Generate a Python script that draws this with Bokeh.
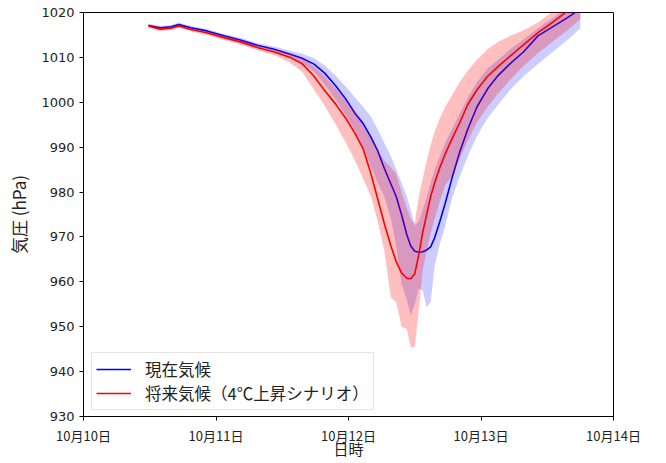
from bokeh.plotting import figure
from bokeh.models import FixedTicker
from bokeh.embed import file_html
from bokeh.resources import INLINE

# Time in days since 10月10日 00:00
t = [0.49, 0.58, 0.66, 0.72, 0.81, 0.93, 1.06, 1.19, 1.31, 1.44,
     1.56, 1.65, 1.74, 1.82, 1.90, 1.98, 2.05, 2.11, 2.17, 2.22,
     2.27, 2.32, 2.36, 2.40, 2.44, 2.47, 2.50, 2.53, 2.56, 2.59,
     2.62, 2.65, 2.69, 2.73, 2.78, 2.84, 2.90, 2.97, 3.05, 3.13,
     3.22, 3.32, 3.43, 3.54, 3.65, 3.75]

# Present climate: ensemble mean and spread (hPa)
present_mean = [1017.1, 1016.6, 1016.8, 1017.3, 1016.6, 1015.9, 1014.8, 1013.8, 1012.7, 1011.8,
                1010.7, 1009.8, 1008.5, 1006.5, 1003.8, 1000.7, 997.5, 995.3, 992.2, 989.2,
                985.3, 981.8, 979.0, 975.0, 970.5, 968.0, 966.8, 966.6, 966.7, 967.1,
                967.8, 969.8, 973.5, 977.5, 983.0, 989.0, 994.0, 999.0, 1003.0, 1006.0,
                1008.6, 1011.2, 1014.8, 1016.8, 1018.8, 1020.8]
present_low = [1016.7, 1016.2, 1016.4, 1016.9, 1016.2, 1015.5, 1014.4, 1013.3, 1012.2, 1011.1,
               1009.8, 1008.8, 1006.8, 1004.0, 1000.8, 997.0, 993.5, 990.0, 985.5, 982.0,
               979.0, 974.0, 968.0, 959.5, 956.0, 952.5, 955.0, 958.5, 958.0, 954.3,
               955.5, 963.5, 968.5, 972.5, 978.5, 983.5, 988.0, 992.5, 996.5, 999.5,
               1002.8, 1005.8, 1008.5, 1011.2, 1013.8, 1016.5]
present_high = [1017.5, 1017.0, 1017.2, 1017.7, 1017.0, 1016.3, 1015.2, 1014.3, 1013.2, 1012.4,
                1011.4, 1010.8, 1009.8, 1008.2, 1006.0, 1003.5, 1001.0, 999.0, 996.8, 994.0,
                991.0, 988.0, 985.0, 982.0, 979.0, 976.0, 972.5, 973.5, 976.0, 979.0,
                982.0, 985.0, 988.0, 991.0, 994.0, 997.5, 1001.0, 1004.5, 1007.5, 1009.5,
                1011.8, 1014.0, 1016.5, 1018.8, 1021.0, 1022.0]

# Future climate (+4℃ scenario): ensemble mean and spread (hPa)
future_mean = [1017.0, 1016.3, 1016.5, 1017.0, 1016.2, 1015.5, 1014.4, 1013.4, 1012.2, 1011.2,
               1010.0, 1008.6, 1005.8, 1002.6, 999.7, 996.4, 993.0, 989.7, 984.0, 978.5,
               973.0, 968.0, 964.5, 962.0, 960.8, 960.7, 961.8, 966.0, 971.0, 975.0,
               979.0, 982.0, 985.5, 988.5, 991.8, 995.5, 999.5, 1002.8, 1005.8, 1008.0,
               1010.3, 1012.8, 1015.5, 1017.8, 1020.3, 1021.8]
future_low = [1016.6, 1015.9, 1016.1, 1016.6, 1015.8, 1015.0, 1013.9, 1012.8, 1011.6, 1010.5,
              1008.8, 1006.8, 1002.8, 999.2, 995.2, 991.0, 987.0, 983.0, 979.0, 973.5,
              967.0, 956.5, 955.5, 950.0, 949.5, 945.4, 945.4, 953.6, 962.5, 967.0,
              970.8, 974.0, 978.0, 981.5, 983.5, 987.5, 991.5, 995.5, 999.0, 1002.0,
              1005.0, 1008.0, 1011.0, 1013.5, 1016.0, 1018.5]
future_high = [1017.4, 1016.7, 1016.9, 1017.4, 1016.6, 1015.9, 1014.8, 1013.9, 1012.7, 1011.8,
               1010.8, 1009.8, 1008.0, 1005.8, 1003.2, 1000.5, 997.8, 995.0, 992.0, 989.5,
               987.0, 985.5, 984.0, 980.0, 976.5, 974.0, 973.0, 979.0, 983.0, 987.0,
               990.5, 993.5, 996.5, 999.0, 1001.5, 1004.5, 1007.0, 1009.5, 1011.8, 1013.5,
               1014.8, 1016.0, 1017.8, 1020.2, 1022.0, 1023.0]

x_tick_values = [0, 1, 2, 3, 4]
x_tick_labels = ["10月10日", "10月11日", "10月12日", "10月13日", "10月14日"]
y_tick_values = [930, 940, 950, 960, 970, 980, 990, 1000, 1010, 1020]

series_labels = ["現在気候", "将来気候（4℃上昇シナリオ）"]
x_title = "日時"
y_title = "気圧 (hPa)"

FONT = "Noto Sans CJK JP"

p = figure(width=666, height=463, x_range=(0, 4), y_range=(930, 1020),
           output_backend="svg", toolbar_location=None,
           min_border_left=83, min_border_right=53,
           min_border_top=12, min_border_bottom=47)

# Ensemble spread bands and mean lines
p.varea(x=t, y1=present_low, y2=present_high, fill_color="#0000ff", fill_alpha=0.2)
p.line(t, present_mean, line_color="#0000ff", line_width=1.6, legend_label=series_labels[0])
p.varea(x=t, y1=future_low, y2=future_high, fill_color="#ff0000", fill_alpha=0.25)
p.line(t, future_mean, line_color="#ff0000", line_width=1.6, legend_label=series_labels[1])

# Frame and axes
p.outline_line_color = "black"
p.outline_line_width = 1
p.grid.visible = False
p.background_fill_color = "white"
p.border_fill_color = "white"

p.xaxis.ticker = FixedTicker(ticks=x_tick_values)
p.xaxis.major_label_overrides = {v: lab for v, lab in zip(x_tick_values, x_tick_labels)}
p.yaxis.ticker = FixedTicker(ticks=y_tick_values)

for ax in (p.xaxis, p.yaxis):
    ax.axis_line_color = "black"
    ax.major_tick_line_color = "black"
    ax.major_tick_out = 4
    ax.major_tick_in = 0
    ax.minor_tick_line_color = None
    ax.major_label_text_color = "#222222"
    ax.axis_label_text_font = FONT
    ax.axis_label_text_font_style = "normal"
    ax.axis_label_text_color = "#222222"

p.xaxis.major_label_text_font = FONT
p.xaxis.major_label_text_font_size = "13px"
p.yaxis.major_label_text_font = "DejaVu Sans"
p.yaxis.major_label_text_font_size = "13px"

p.xaxis.axis_label = x_title
p.yaxis.axis_label = y_title
p.xaxis.axis_label_text_font_size = "15px"
p.yaxis.axis_label_text_font_size = "17px"
p.xaxis.major_label_standoff = 5
p.xaxis.axis_label_standoff = -10
p.yaxis.major_label_standoff = 5
p.yaxis.axis_label_standoff = 7

# Legend
lg = p.legend[0]
lg.location = (8, 6)
lg.margin = 0
lg.padding = 4
lg.spacing = 0
lg.label_height = 20
lg.glyph_height = 20
lg.glyph_width = 35
lg.label_standoff = 14
lg.label_text_font = FONT
lg.label_text_font_size = "16.5px"
lg.label_text_color = "#222222"
lg.border_line_color = "#cccccc"
lg.border_line_width = 1
lg.background_fill_alpha = 0.85

open("out.html", "w").write(file_html(p, INLINE))
